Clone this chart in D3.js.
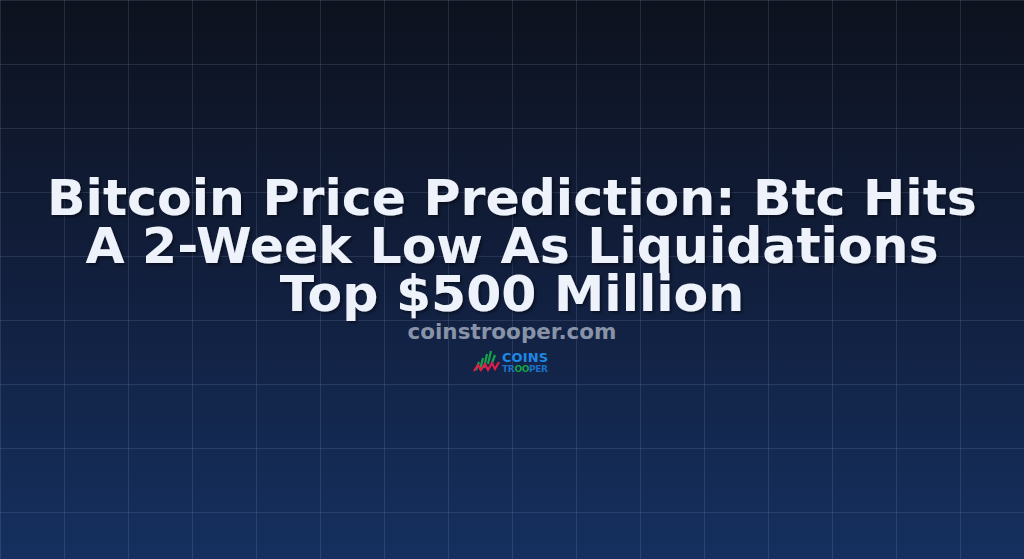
<!DOCTYPE html>
<html><head><meta charset="utf-8">
<script src="https://cdn.jsdelivr.net/npm/d3@7"></script>
<style>html,body{margin:0;padding:0;background:#0d121f;overflow:hidden}</style>
</head><body>
<svg id="c" width="1024" height="559"></svg>
<script>
const titleLines = ["Bitcoin Price Prediction: Btc Hits", "A 2-Week Low As Liquidations", "Top $500 Million"];
const subtitle = "coinstrooper.com";
const logoTop = "COINS";
const logoBottom = [["TR","#1e6fc4"],["OO","#16a34a"],["PER","#1e6fc4"]];
const gridCols = 16, gridRows = 9;

const W = 1024, H = 559;
const svg = d3.select("#c");
const defs = svg.append("defs");
const g = defs.append("linearGradient").attr("id","bg").attr("x1",0).attr("y1",0).attr("x2",0).attr("y2",1);
g.append("stop").attr("offset","0%").attr("stop-color","#0d121e");
g.append("stop").attr("offset","45%").attr("stop-color","#111d3a");
g.append("stop").attr("offset","100%").attr("stop-color","#15305f");
const f = defs.append("filter").attr("id","sh").attr("x","-10%").attr("y","-30%").attr("width","120%").attr("height","160%");
f.append("feDropShadow").attr("dx",2).attr("dy",2).attr("stdDeviation",1.5).attr("flood-color","#000").attr("flood-opacity",0.45);

svg.append("rect").attr("width",W).attr("height",H).attr("fill","url(#bg)");

const x = d3.scaleLinear().domain([0,gridCols]).range([0,W]);
const y = d3.scaleLinear().domain([0,gridRows]).range([0,576]);
const grid = svg.append("g").attr("stroke","rgba(140,160,200,0.18)").attr("stroke-width",1);
grid.selectAll("line.v").data(d3.range(0,gridCols+1)).join("line")
  .attr("x1",d=>x(d)+0.5).attr("x2",d=>x(d)+0.5).attr("y1",0).attr("y2",H);
grid.selectAll("line.h").data(d3.range(0,gridRows+1)).join("line")
  .attr("y1",d=>y(d)+0.5).attr("y2",d=>y(d)+0.5).attr("x1",0).attr("x2",W);

const t = svg.append("g").attr("filter","url(#sh)");
t.selectAll("text").data(titleLines).join("text")
  .attr("x",W/2).attr("y",(d,i)=>215+i*48)
  .attr("text-anchor","middle")
  .attr("font-family","DejaVu Sans").attr("font-weight","bold").attr("font-size",50.5)
  .attr("fill","#eef2fb").text(d=>d);

svg.append("text").attr("x",W/2).attr("y",339).attr("text-anchor","middle")
  .attr("font-family","DejaVu Sans").attr("font-weight","bold").attr("font-size",21.5)
  .attr("fill","#8893a8").text(subtitle);

// logo
const lg = svg.append("g").attr("transform","translate(474,348)");
[[2,14,8],[6,10,12],[10,6,14],[14,3,13],[18,7,8]].forEach(([bx,by,bh])=>{
  lg.append("line").attr("x1",bx).attr("x2",bx+3).attr("y1",by+bh).attr("y2",by).attr("stroke","#16a34a").attr("stroke-width",2.2);
});
lg.append("polyline").attr("points","0,23 4,17 7,22 11,16 14,22 18,15 21,21 25,14")
  .attr("fill","none").attr("stroke","#e11d48").attr("stroke-width",2.2);
lg.append("text").attr("x",28).attr("y",14).attr("font-family","DejaVu Sans").attr("font-weight","bold")
  .attr("font-size",13).attr("fill","#1e88e5").attr("textLength",46).text(logoTop);
const lb = lg.append("text").attr("x",28).attr("y",24).attr("font-family","DejaVu Sans").attr("font-weight","bold")
  .attr("font-size",9).attr("textLength",46);
logoBottom.forEach(([s,c])=>lb.append("tspan").attr("fill",c).text(s));
</script>
</body></html>
